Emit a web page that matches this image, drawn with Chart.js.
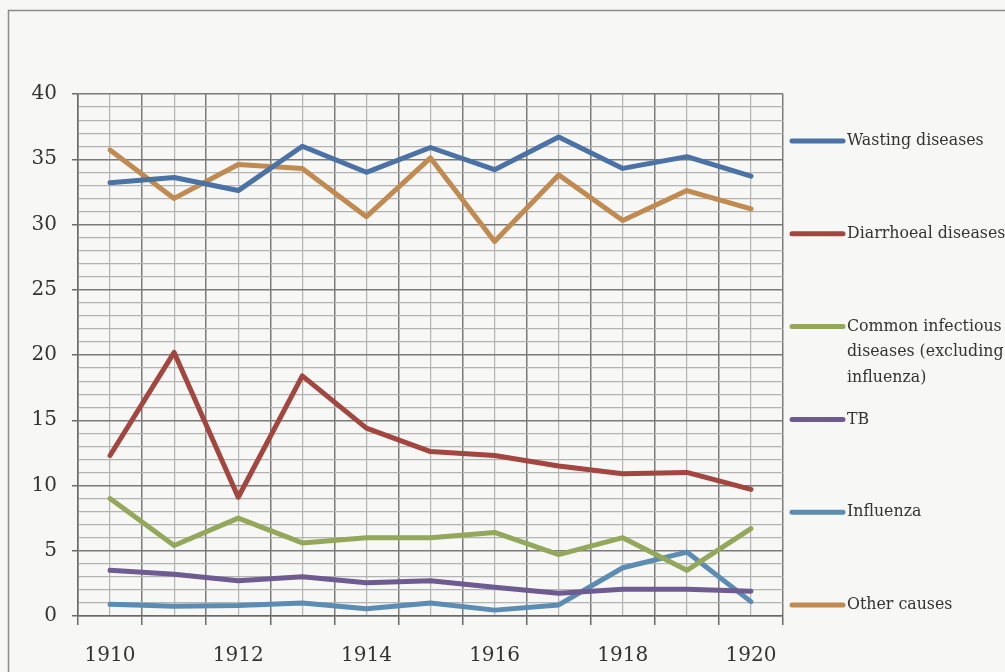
<!DOCTYPE html>
<html>
<head>
<meta charset="utf-8">
<script src="https://cdn.jsdelivr.net/npm/chart.js@4.4.1/dist/chart.umd.min.js"></script>
<style>
  html, body { margin: 0; padding: 0; background: #f7f7f5; }
  #wrap { position: absolute; left: 0; top: 0; width: 1005px; height: 672px; }
</style>
</head>
<body>
<div id="wrap"><canvas id="c" width="1005" height="672"></canvas></div>
<script>
const years = [1910, 1911, 1912, 1913, 1914, 1915, 1916, 1917, 1918, 1919, 1920];
const xTickLabels = ['1910', '1912', '1914', '1916', '1918', '1920'];
const seriesNames = ['Wasting diseases', 'Diarrhoeal diseases', 'Common infectious diseases (excluding influenza)', 'TB', 'Influenza', 'Other causes'];
const wasting     = [33.2, 33.6, 32.6, 36.0, 34.0, 35.9, 34.2, 36.7, 34.3, 35.2, 33.7];
const diarrhoeal  = [12.3, 20.2, 9.1, 18.4, 14.4, 12.6, 12.3, 11.5, 10.9, 11.0, 9.7];
const infectious  = [9.0, 5.4, 7.5, 5.6, 6.0, 6.0, 6.4, 4.7, 6.0, 3.5, 6.7];
const tb          = [3.5, 3.2, 2.7, 3.0, 2.55, 2.7, 2.2, 1.75, 2.05, 2.05, 1.9];
const influenza   = [0.9, 0.75, 0.8, 1.0, 0.55, 1.0, 0.45, 0.85, 3.7, 4.9, 1.1];
const other       = [35.7, 32.0, 34.6, 34.3, 30.6, 35.1, 28.7, 33.8, 30.3, 32.6, 31.2];
const yTickLabels = ['0', '5', '10', '15', '20', '25', '30', '35', '40'];

const seriesValues = [wasting, diarrhoeal, infectious, tb, influenza, other];
const colors = ['#4a72a6', '#a3463f', '#93a85a', '#6e5b92', '#5b8cb3', '#c08a51'];

const FONT = "'DejaVu Serif', serif";

const datasets = seriesValues.map((vals, i) => ({
  label: seriesNames[i],
  data: vals.map((v, j) => ({ x: years[j], y: v })),
  borderColor: colors[i],
  backgroundColor: colors[i],
  borderWidth: 5,
  pointRadius: 0,
  tension: 0,
  borderCapStyle: 'round',
  borderJoinStyle: 'round',
  fill: false
}));

const framePlugin = {
  id: 'frame',
  beforeDraw(chart) {
    const ctx = chart.ctx;
    ctx.save();
    ctx.fillStyle = '#f7f7f5';
    ctx.fillRect(0, 0, chart.width, chart.height);
    ctx.strokeStyle = '#8c8c8c';
    ctx.lineWidth = 1.5;
    ctx.beginPath();
    ctx.moveTo(8.5, chart.height + 5);
    ctx.lineTo(8.5, 10.5);
    ctx.lineTo(chart.width + 5, 10.5);
    ctx.stroke();
    ctx.restore();
  }
};

const legendPlugin = {
  id: 'sideLegend',
  afterDraw(chart) {
    const ctx = chart.ctx;
    const area = chart.chartArea;
    const n = chart.data.datasets.length;
    const startY = area.top + 47;
    const endY = area.bottom - 11;
    const step = (endY - startY) / (n - 1);
    const x0 = area.right + 9;
    const x1 = area.right + 60;
    const tx = area.right + 64;
    const maxW = chart.width - tx + 4;
    ctx.save();
    ctx.font = "15.8px " + FONT;
    ctx.textBaseline = 'middle';
    ctx.textAlign = 'left';
    chart.data.datasets.forEach((ds, i) => {
      const y = startY + i * step;
      ctx.strokeStyle = ds.borderColor;
      ctx.lineWidth = 5;
      ctx.lineCap = 'round';
      ctx.beginPath();
      ctx.moveTo(x0, y);
      ctx.lineTo(x1, y);
      ctx.stroke();
      const words = ds.label.split(' ');
      const lines = [];
      let cur = '';
      words.forEach(w => {
        const test = cur ? cur + ' ' + w : w;
        if (ctx.measureText(test).width > maxW && cur) {
          lines.push(cur);
          cur = w;
        } else {
          cur = test;
        }
      });
      if (cur) lines.push(cur);
      ctx.fillStyle = '#333333';
      lines.forEach((ln, k) => ctx.fillText(ln, tx, y + k * 25.5));
    });
    ctx.restore();
  }
};

new Chart(document.getElementById('c'), {
  type: 'line',
  data: { datasets },
  options: {
    responsive: false,
    animation: false,
    layout: { padding: { top: 94, right: 222, left: 0, bottom: 0 } },
    plugins: { legend: { display: false }, tooltip: { enabled: false } },
    scales: {
      x: {
        type: 'linear',
        min: years[0] - 0.5,
        max: years[years.length - 1] + 0.5,
        afterBuildTicks(scale) {
          const t = [];
          for (let v = years[0] - 0.5; v <= years[years.length - 1] + 0.5 + 1e-9; v += 0.5) t.push({ value: v });
          scale.ticks = t;
        },
        afterFit(scale) { scale.height = 56; },
        grid: {
          color: ctx => (ctx.tick && Math.abs(ctx.tick.value % 1) > 0.1) ? '#7a7a7a' : '#b3b3b3',
          lineWidth: ctx => (ctx.tick && Math.abs(ctx.tick.value % 1) > 0.1) ? 1.5 : 1.2,
          tickColor: ctx => (ctx.tick && Math.abs(ctx.tick.value % 1) > 0.1) ? '#6a6a6a' : 'rgba(0,0,0,0)',
          tickLength: 9,
          drawTicks: true
        },
        border: { display: true, color: '#6a6a6a', width: 1.5 },
        ticks: {
          autoSkip: false,
          maxRotation: 0,
          padding: 19,
          color: '#333333',
          font: { family: FONT, size: 20 },
          callback: v => xTickLabels.includes(String(v)) ? String(v) : ''
        }
      },
      y: {
        min: 0,
        max: 40,
        afterBuildTicks(scale) {
          const t = [];
          for (let v = 0; v <= 40; v++) t.push({ value: v });
          scale.ticks = t;
        },
        afterFit(scale) { scale.width = 78; },
        grid: {
          color: ctx => (ctx.tick && ctx.tick.value % 5 === 0) ? '#7a7a7a' : '#b3b3b3',
          lineWidth: ctx => (ctx.tick && ctx.tick.value % 5 === 0) ? 1.5 : 1.2,
          tickColor: ctx => (ctx.tick && ctx.tick.value % 5 === 0) ? '#6a6a6a' : 'rgba(0,0,0,0)',
          tickLength: 6
        },
        border: { display: true, color: '#6a6a6a', width: 1.5 },
        ticks: {
          autoSkip: false,
          padding: 15,
          color: '#333333',
          font: { family: FONT, size: 20 },
          callback: v => yTickLabels.includes(String(v)) ? String(v) : ''
        }
      }
    }
  },
  plugins: [framePlugin, legendPlugin]
});
</script>
</body>
</html>
